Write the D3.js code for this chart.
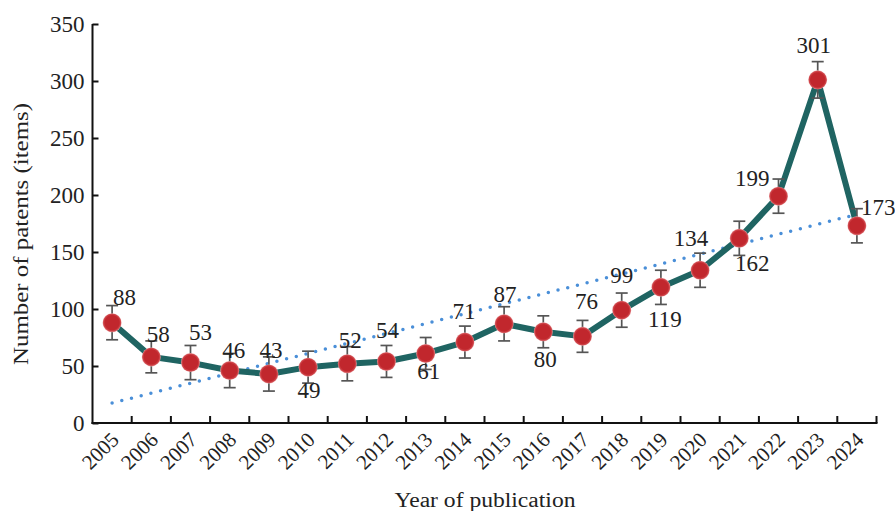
<!DOCTYPE html>
<html>
<head>
<meta charset="utf-8">
<script src="https://cdn.jsdelivr.net/npm/d3@7"></script>
<style>
  html, body { margin: 0; padding: 0; background: #fff; }
  svg { display: block; font-family: "Liberation Serif", "Times New Roman", serif; }
</style>
</head>
<body>
<svg id="chart" width="895" height="511"></svg>
<script>
// Patent publications per year
const years = ["2005","2006","2007","2008","2009","2010","2011","2012","2013","2014",
               "2015","2016","2017","2018","2019","2020","2021","2022","2023","2024"];
const patents = [88, 58, 53, 46, 43, 49, 52, 54, 61, 71, 87, 80, 76, 99, 119, 134, 162, 199, 301, 173];
const errors  = [15, 14, 15, 15, 15, 14, 15, 14, 14, 14, 15, 14, 14, 15, 15, 15, 15, 15, 16, 15];
const yTicks = [0, 50, 100, 150, 200, 250, 300, 350];

// Label nudges (dx, dy in px from the point, with text anchor) so labels clear the line
const labelLayout = [
  [1, -18, "start"], [7, -15, "middle"], [10, -23, "middle"], [4, -13, "middle"], [2, -16, "middle"],
  [1, 31, "middle"], [3, -16, "middle"], [1, -23, "middle"], [3, 26, "middle"], [-1, -23, "middle"],
  [1, -22, "middle"], [2, 35, "middle"], [4, -27, "middle"], [0, -27, "middle"], [4, 40, "middle"],
  [-9, -24, "middle"], [13, 33, "middle"], [-9, -10, "end"], [-4, -27, "middle"], [4, -11, "start"]
];

const svg = d3.select("#chart");
const plotLeft = 92.5, plotRight = 876.5, plotTop = 24, plotBottom = 423;

const x = d3.scaleBand().domain(years).range([plotLeft, plotRight]).padding(0);
const y = d3.scaleLinear().domain([0, 350]).range([plotBottom, plotTop]);
const cx = d => x(d) + x.bandwidth() / 2;

// Linear trend of the series
const n = patents.length;
const xm = (n - 1) / 2, ym = d3.mean(patents);
const sxy = d3.sum(patents, (v, i) => (i - xm) * (v - ym));
const sxx = d3.sum(patents, (v, i) => (i - xm) * (i - xm));
const slope = sxy / sxx, intercept = ym - slope * xm;

// Axes
const yAxis = d3.axisLeft(y).tickValues(yTicks).tickSize(-6).tickPadding(8).tickSizeOuter(0);
const gy = svg.append("g").attr("transform", `translate(${plotLeft},0)`).call(yAxis);
gy.select(".domain").attr("stroke", "#111").attr("stroke-width", 2)
  .attr("d", `M0,${plotBottom + 1}V${plotTop}`);
gy.selectAll(".tick line").attr("stroke", "#111").attr("stroke-width", 2);
gy.selectAll(".tick text").attr("font-size", 23).attr("fill", "#222")
  .attr("font-family", "Liberation Serif, serif").attr("dy", "0.34em");

const gx = svg.append("g").attr("transform", `translate(0,${plotBottom})`);
gx.append("line").attr("x1", plotLeft - 1).attr("x2", plotRight + 1).attr("y1", 0).attr("y2", 0)
  .attr("stroke", "#111").attr("stroke-width", 2);
const boundaries = years.map(d => x(d)).concat([x(years[n - 1]) + x.bandwidth()]);
gx.selectAll("line.tk").data(boundaries.slice(1)).join("line").attr("class", "tk")
  .attr("x1", d => d).attr("x2", d => d).attr("y1", 0).attr("y2", -7)
  .attr("stroke", "#111").attr("stroke-width", 2);
gx.selectAll("text.yr").data(years).join("text").attr("class", "yr")
  .attr("transform", d => `translate(${cx(d) + 8},${18}) rotate(-45)`)
  .attr("text-anchor", "end").attr("font-size", 21).attr("fill", "#222")
  .text(d => d);

// Axis titles
svg.append("text").attr("x", 485).attr("y", 507)
  .attr("text-anchor", "middle").attr("font-size", 20).attr("fill", "#222")
  .attr("textLength", 181).attr("lengthAdjust", "spacingAndGlyphs")
  .text("Year of publication");
svg.append("text").attr("transform", `translate(28,234) rotate(-90)`)
  .attr("text-anchor", "middle").attr("font-size", 22).attr("fill", "#222")
  .attr("textLength", 262).attr("lengthAdjust", "spacingAndGlyphs")
  .text("Number of patents (items)");

// Trend line (dotted)
svg.append("line")
  .attr("x1", cx(years[0])).attr("y1", y(intercept))
  .attr("x2", cx(years[n - 1])).attr("y2", y(intercept + slope * (n - 1)))
  .attr("stroke", "#4a8fd8").attr("stroke-width", 3.5)
  .attr("stroke-linecap", "round").attr("stroke-dasharray", "0 10");

// Main series line
const line = d3.line().x((v, i) => cx(years[i])).y(v => y(v));
svg.append("path").datum(patents).attr("d", line)
  .attr("fill", "none").attr("stroke", "#1f6462").attr("stroke-width", 6)
  .attr("stroke-linejoin", "round");

// Error bars
const eb = svg.append("g").attr("stroke", "#555").attr("stroke-width", 1.7);
patents.forEach((v, i) => {
  const px = cx(years[i]);
  const y1 = y(v + errors[i]), y2 = y(v - errors[i]);
  eb.append("line").attr("x1", px).attr("x2", px).attr("y1", y1).attr("y2", y2);
  eb.append("line").attr("x1", px - 6).attr("x2", px + 6).attr("y1", y1).attr("y2", y1);
  eb.append("line").attr("x1", px - 6).attr("x2", px + 6).attr("y1", y2).attr("y2", y2);
});

// Markers with a soft rim
const defs = svg.append("defs");
const grad = defs.append("radialGradient").attr("id", "dot");
grad.append("stop").attr("offset", "0.75").attr("stop-color", "#c1272d");
grad.append("stop").attr("offset", "0.9").attr("stop-color", "#d0474c");
grad.append("stop").attr("offset", "1").attr("stop-color", "#eaa4a6");
svg.selectAll("circle.pt").data(patents).join("circle").attr("class", "pt")
  .attr("cx", (v, i) => cx(years[i])).attr("cy", v => y(v)).attr("r", 9.5)
  .attr("fill", "url(#dot)");

// Value labels
svg.selectAll("text.val").data(patents).join("text").attr("class", "val")
  .attr("x", (v, i) => cx(years[i]) + labelLayout[i][0])
  .attr("y", (v, i) => y(v) + labelLayout[i][1])
  .attr("text-anchor", (v, i) => labelLayout[i][2])
  .attr("font-size", 23).attr("fill", "#222")
  .text(v => v);
</script>
</body>
</html>
